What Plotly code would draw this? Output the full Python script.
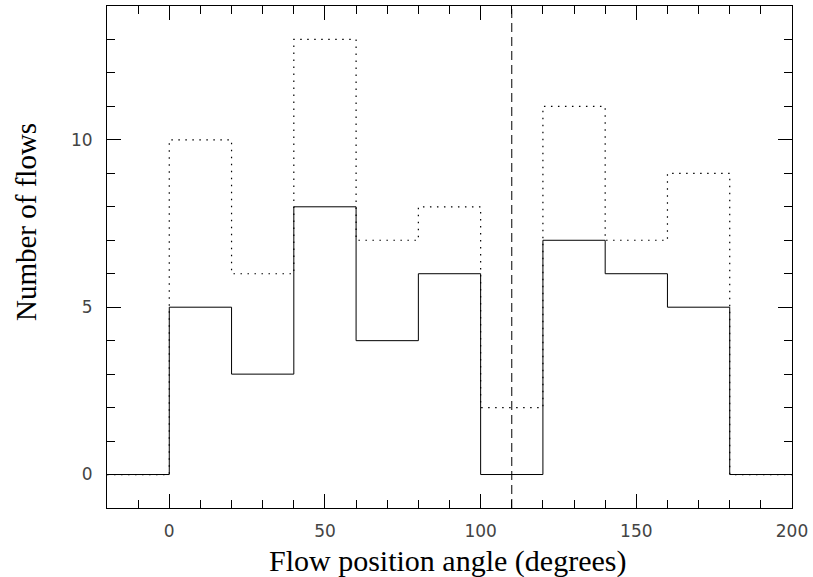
import plotly.graph_objects as go

bin_edges = [-20, 0, 20, 40, 60, 80, 100, 120, 140, 160, 180, 200]
counts_solid = [0, 5, 3, 8, 4, 6, 0, 7, 6, 5, 0]
counts_dotted = [0, 10, 6, 13, 7, 8, 2, 11, 7, 9, 0]
marker_angle = 110
x_title = "Flow position angle (degrees)"
y_title = "Number of flows"

def steps(counts):
    return counts + [counts[-1]]

fig = go.Figure()
fig.add_trace(go.Scatter(x=bin_edges, y=steps(counts_dotted), mode="lines",
                         line=dict(shape="hv", color="black", width=1.2, dash="1.5px,5.5px"),
                         showlegend=False))
fig.add_trace(go.Scatter(x=bin_edges, y=steps(counts_solid), mode="lines",
                         line=dict(shape="hv", color="black", width=1),
                         showlegend=False))
fig.add_trace(go.Scatter(x=[marker_angle, marker_angle], y=[-1, 14], mode="lines",
                         line=dict(color="black", width=1, dash="9px,5px"),
                         showlegend=False))

tickfont = dict(family="DejaVu Sans", size=17, color="#444")
titlefont_x = dict(family="Liberation Serif", size=30, color="black")
titlefont_y = dict(family="Liberation Serif", size=29, color="black")

fig.update_xaxes(range=[-20, 200], tickmode="array", tickvals=[0, 50, 100, 150, 200],
                 ticks="inside", ticklen=14, tickwidth=1, tickcolor="black",
                 minor=dict(dtick=10, tick0=0, ticks="inside", ticklen=8, tickcolor="black", tickwidth=1),
                 showline=True, linecolor="black", linewidth=1, mirror="ticks",
                 showgrid=False, zeroline=False, tickfont=tickfont, ticklabelstandoff=8)
fig.update_yaxes(range=[-1, 14], tickmode="array", tickvals=[0, 5, 10],
                 ticks="inside", ticklen=14, tickwidth=1, tickcolor="black",
                 minor=dict(dtick=1, tick0=0, ticks="inside", ticklen=8, tickcolor="black", tickwidth=1),
                 showline=True, linecolor="black", linewidth=1, mirror="ticks",
                 showgrid=False, zeroline=False, tickfont=tickfont, ticklabelstandoff=10)

fig.add_annotation(text=x_title, xref="paper", yref="paper", x=0.497, y=0,
                   xanchor="center", yanchor="top", yshift=-34, showarrow=False,
                   font=titlefont_x)
fig.add_annotation(text=y_title, xref="paper", yref="paper", x=0, y=0.5697,
                   xanchor="center", yanchor="middle", xshift=-81, showarrow=False,
                   textangle=-90, font=titlefont_y)

fig.update_layout(width=813, height=577, margin=dict(l=107, r=21, t=6, b=69),
                  plot_bgcolor="white", paper_bgcolor="white")
fig.write_html("out.html")
